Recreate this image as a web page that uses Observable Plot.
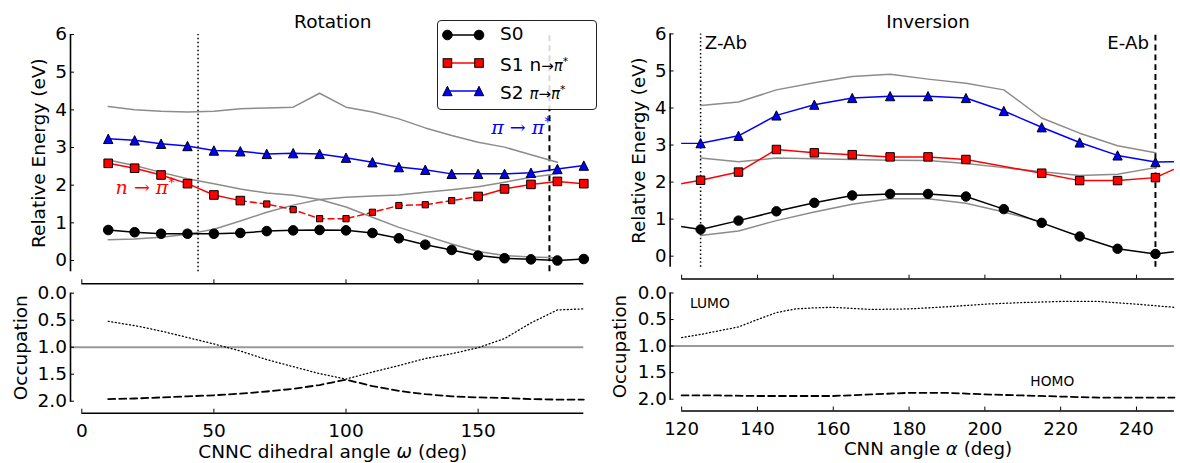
<!DOCTYPE html>
<html><head><meta charset="utf-8">
<script src="https://cdn.jsdelivr.net/npm/d3@7"></script>
<script src="https://cdn.jsdelivr.net/npm/@observablehq/plot@0.6"></script>
<style>
html,body{margin:0;padding:0;background:#fff;overflow:hidden;}
#fig{position:relative;width:1180px;height:463px;overflow:hidden;font-family:"DejaVu Sans",sans-serif;}
#fig .panel{position:absolute;}
#fig svg{overflow:visible;}
.legend{position:absolute;box-sizing:border-box;border:1px solid #222;border-radius:4px;background:rgba(255,255,255,0.85);}
.legend .sw{position:absolute;left:0;}
.legend .lab{position:absolute;left:62px;font-size:18.5px;line-height:22px;white-space:nowrap;color:#000;}
.legend .m{font-size:15px;}
.legend sup{font-size:11px;}
</style></head><body><div id="fig"></div>
<script>
// ---------------- data ----------------
const rotAngles = [10,20,30,40,50,60,70,80,90,100,110,120,130,140,150,160,170,180,190];
const rotS0 = [0.81,0.75,0.71,0.71,0.71,0.73,0.78,0.80,0.81,0.80,0.73,0.59,0.42,0.28,0.13,0.06,0.03,0.00,0.04];
const rotS1 = [2.58,2.45,2.27,2.04,1.74,1.59,1.50,1.35,1.11,1.11,1.28,1.46,1.48,1.59,1.70,1.90,2.02,2.10,2.04];
const rotS1Diabatic = [0,0,0,0,0,0,1,1,1,1,1,1,1,1,0,0,0,0,0];
const rotS2 = [3.23,3.19,3.10,3.04,2.92,2.90,2.83,2.85,2.83,2.73,2.61,2.48,2.41,2.30,2.30,2.30,2.33,2.43,2.52];
const rotGrayAngles = [10,20,30,40,50,60,70,80,90,100,110,120,130,140,150,160,170,180];
const rotGray1 = [4.09,4.00,3.96,3.94,3.96,4.03,4.05,4.07,4.44,4.07,3.94,3.76,3.52,3.32,3.14,3.01,2.81,2.61];
const rotGray2 = [2.67,2.52,2.34,2.17,2.04,1.90,1.79,1.73,1.62,1.42,1.15,0.88,0.66,0.44,0.24,0.13,0.09,0.07];
const rotGray3 = [0.55,0.57,0.62,0.70,0.83,1.05,1.28,1.47,1.62,1.68,1.71,1.74,1.81,1.88,1.96,2.08,2.21,2.30];
const rotRefLines = [44, 177];
const rotLUMO = [0.52,0.60,0.70,0.82,0.94,1.07,1.23,1.36,1.49,1.59,1.46,1.34,1.21,1.12,1.01,0.84,0.55,0.31,0.29];
const rotHOMO = [1.96,1.95,1.93,1.91,1.89,1.86,1.82,1.77,1.70,1.60,1.72,1.81,1.87,1.91,1.93,1.94,1.96,1.97,1.97];

const invAngles = [115,125,135,145,155,165,175,185,195,205,215,225,235,245,255];
const invS0 = [0.88,0.72,0.96,1.21,1.44,1.64,1.68,1.68,1.61,1.27,0.90,0.53,0.20,0.06,0.18];
const invS2 = [3.04,3.05,3.25,3.80,4.09,4.27,4.32,4.32,4.27,3.92,3.48,3.07,2.72,2.54,2.56];
const invS1Angles = [115,125,135,145,155,165,175,185,195,215,225,235,245,255];
const invS1 = [1.87,2.05,2.27,2.88,2.79,2.74,2.68,2.68,2.61,2.24,2.04,2.04,2.12,2.58];
const invGrayAngles = [125,135,145,155,165,175,185,195,205,215,225,235,245];
const invGray1 = [4.07,4.16,4.49,4.68,4.85,4.91,4.78,4.67,4.49,3.73,3.32,2.98,2.79];
const invGray2 = [2.65,2.55,2.65,2.63,2.61,2.59,2.58,2.50,2.39,2.28,2.18,2.21,2.39];
const invGray3Angles = [125,135,145,155,165,175,185,195,205,215];
const invGray3 = [0.56,0.68,0.96,1.19,1.40,1.55,1.55,1.43,1.19,0.93];
const invRefLines = [125, 245];
const invLUMOAngles = [120,125,130,135,140,145,150,155,160,170,180,190,200,210,220,230,240,250];
const invLUMO = [0.84,0.78,0.71,0.64,0.50,0.37,0.30,0.28,0.27,0.31,0.30,0.26,0.21,0.18,0.16,0.16,0.21,0.27];
const invHOMOAngles = [120,130,140,150,160,170,180,190,200,210,220,230,240,250];
const invHOMO = [1.93,1.93,1.94,1.94,1.94,1.91,1.88,1.88,1.91,1.93,1.95,1.97,1.97,1.97];

const occRef = [1.0];
const energyTicks = [0,1,2,3,4,5,6];
const occTicks = [0,0.5,1.0,1.5,2.0];
const rotTicks = [0,50,100,150];
const invTicks = [120,140,160,180,200,220,240];

// ---------------- helpers ----------------
const FONT = "'DejaVu Sans', sans-serif";
const RED = "#ff0000", BLUE = "#0000ff", GRAY = "#8c8c8c";
const FS = 18.5;
const sqSym = {draw(ctx, size){ const r = Math.sqrt(size/Math.PI); ctx.rect(-r,-r,2*r,2*r); }};
const triSym = {draw(ctx, size){ const r = Math.sqrt(size/Math.PI); ctx.moveTo(0,-r); ctx.lineTo(r,r); ctx.lineTo(-r,r); ctx.closePath(); }};
const fig = document.getElementById("fig");

function richText(svg){
  svg.querySelectorAll("text").forEach(t => {
    const s = t.textContent;
    if (!/[_^]/.test(s)) return;
    t.textContent = "";
    for (const p of s.split(/(_[^_]+_|\^[^^]+\^)/).filter(Boolean)) {
      const ts = document.createElementNS("http://www.w3.org/2000/svg","tspan");
      if (p[0] === "_") { ts.setAttribute("font-style","italic"); ts.textContent = p.slice(1,-1); }
      else if (p[0] === "^") { ts.setAttribute("font-size","72%"); ts.setAttribute("dy","-0.55em"); ts.setAttribute("font-style","normal"); ts.setAttribute("font-family","'DejaVu Sans', sans-serif"); ts.textContent = p.slice(1,-1); }
      else ts.textContent = p;
      t.appendChild(ts);
    }
  });
}

function makePanel(cfg){
  const {left, top, width, height, mL, mR, mT, mB, xDom, yDom, yRev=false, offX, offY,
         xTicks, yTicks, yFmt, xTickLabels=false, xTickDy=29, yLabel, yLabelDx, xLabel, xLabelDy=49.5, title, marks} = cfg;
  const pxX = (width - mL - mR) / (xDom[1] - xDom[0]);
  const pxY = (height - mT - mB) / (yDom[1] - yDom[0]);
  const yBot = yRev ? yDom[1] : yDom[0];
  const inward = yRev ? -4/pxY : 4/pxY;
  const ctx = {pxX, pxY, offX};
  const axisMarks = [
    Plot.ruleX([xDom[0]], {y1: yDom[0], y2: yDom[1], dx: -offX, stroke: "#000", strokeWidth: 1.6}),
    Plot.ruleY(yTicks, {y: d => d, x1: xDom[0], x2: xDom[0] + 4/pxX, dx: -offX, stroke: "#000", strokeWidth: 1}),
    Plot.text(yTicks, {x: xDom[0], y: d => d, text: yFmt, textAnchor: "end", lineAnchor: "middle", dx: -offX - 3.5, fontSize: FS, fill: "#000"}),
    Plot.ruleY([yBot], {x1: xDom[0], x2: xDom[1], dy: offY, stroke: "#000", strokeWidth: 1.6}),
    Plot.ruleX(xTicks, {x: d => d, y1: yBot, y2: yBot + inward, dy: offY, stroke: "#000", strokeWidth: 1}),
    Plot.text([yLabel], {frameAnchor: "left", rotate: -90, dx: yLabelDx, text: d => d, textAnchor: "middle", lineAnchor: "middle", fontSize: FS, fill: "#000"})
  ];
  if (xTickLabels) {
    axisMarks.push(Plot.text(xTicks, {x: d => d, frameAnchor: "bottom", dy: xTickDy, text: d => String(d), textAnchor: "middle", lineAnchor: "middle", fontSize: FS, fill: "#000"}));
  }
  if (xLabel) axisMarks.push(Plot.text([xLabel], {frameAnchor: "bottom", dy: xLabelDy, text: d => d, textAnchor: "middle", lineAnchor: "middle", fontSize: FS, fill: "#000"}));
  if (title) axisMarks.push(Plot.text([title], {frameAnchor: "top", dy: -12, text: d => d, textAnchor: "middle", lineAnchor: "middle", fontSize: FS, fill: "#000"}));
  const svg = Plot.plot({
    width, height, marginLeft: mL, marginRight: mR, marginTop: mT, marginBottom: mB,
    x: {domain: xDom, axis: null},
    y: {domain: yDom, axis: null, reverse: yRev},
    style: {background: "transparent", overflow: "visible", fontFamily: FONT},
    marks: [...marks(ctx), ...axisMarks]
  });
  richText(svg);
  const div = document.createElement("div");
  div.className = "panel";
  div.style.left = left + "px"; div.style.top = top + "px";
  div.appendChild(svg);
  fig.appendChild(div);
}

// ---------------- records ----------------
const rotRec = rotAngles.map((a,i) => ({a, s0: rotS0[i], s1: rotS1[i], s2: rotS2[i], dia: rotS1Diabatic[i]}));
const rotGrayRec = [rotGray1, rotGray2, rotGray3].flatMap((arr,k) => rotGrayAngles.map((a,i) => ({a, v: arr[i], k})));
const dFirst = rotS1Diabatic.indexOf(1) - 1, dLast = rotS1Diabatic.lastIndexOf(1) + 1;
const rotLUMORec = rotAngles.map((a,i) => ({a, v: rotLUMO[i]}));
const rotHOMORec = rotAngles.map((a,i) => ({a, v: rotHOMO[i]}));
const invS0Rec = invAngles.map((a,i) => ({a, v: invS0[i]}));
const invS2Rec = invAngles.map((a,i) => ({a, v: invS2[i]}));
const invS1Rec = invS1Angles.map((a,i) => ({a, v: invS1[i]}));
const inView = d => d.a >= 120 && d.a <= 250;
const invGrayRec = [
  ...invGrayAngles.map((a,i) => ({a, v: invGray1[i], k: 1})),
  ...invGrayAngles.map((a,i) => ({a, v: invGray2[i], k: 2})),
  ...invGray3Angles.map((a,i) => ({a, v: invGray3[i], k: 3}))
];
const invLUMORec = invLUMOAngles.map((a,i) => ({a, v: invLUMO[i]}));
const invHOMORec = invHOMOAngles.map((a,i) => ({a, v: invHOMO[i]}));

// ---------------- panels ----------------
const topGeom = {top: 0, height: 300, mT: 34, mB: 28.7, yDom: [-0.3, 6], offY: 12, yTicks: energyTicks, yFmt: d => String(d), yLabel: "Relative Energy (eV)"};
const botGeom = {top: 280, height: 183, mT: 12.7, mB: 61.2, yDom: [0, 2.02], yRev: true, offY: 10.9, yTicks: occTicks, yFmt: d => d.toFixed(1), yLabel: "Occupation", xTickLabels: true};
const leftGeom = {left: 0, width: 600, mL: 81.3, mR: 16.7, xDom: [0, 190], offX: 11.3, xTicks: rotTicks};
const rightGeom = {left: 590, width: 600, mL: 92.7, mR: 6.2, xDom: [120, 250], offX: 11.7, xTicks: invTicks};

// Rotation energies
makePanel({...topGeom, ...leftGeom, yLabelDx: -42.3, title: "Rotation", marks: () => [
  Plot.ruleX([rotRefLines[0]], {y1: -0.3, y2: 6, stroke: "#000", strokeWidth: 1.5, strokeDasharray: "1.5,2.5"}),
  Plot.ruleX([rotRefLines[1]], {y1: -0.3, y2: 6, stroke: "#000", strokeWidth: 2, strokeDasharray: "6,4"}),
  Plot.line(rotGrayRec, {x: "a", y: "v", z: "k", stroke: GRAY, strokeWidth: 1.5}),
  Plot.line(rotRec, {x: "a", y: "s0", stroke: "#000", strokeWidth: 1.5}),
  Plot.line(rotRec, {x: "a", y: d => d.dia ? NaN : d.s1, stroke: RED, strokeWidth: 1.5}),
  Plot.line(rotRec.slice(dFirst, dLast + 1), {x: "a", y: "s1", stroke: RED, strokeWidth: 1.5, strokeDasharray: "6,4"}),
  Plot.line(rotRec, {x: "a", y: "s2", stroke: BLUE, strokeWidth: 1.5}),
  Plot.dot(rotRec, {x: "a", y: "s0", r: 4.8, fill: "#000", stroke: "#000", strokeWidth: 1}),
  Plot.dot(rotRec.filter(d => !d.dia), {x: "a", y: "s1", symbol: sqSym, r: 4.3, fill: RED, stroke: "#000", strokeWidth: 1}),
  Plot.dot(rotRec.filter(d => d.dia), {x: "a", y: "s1", symbol: sqSym, r: 3.1, fill: RED, stroke: "#000", strokeWidth: 1}),
  Plot.dot(rotRec, {x: "a", y: "s2", symbol: triSym, r: 4.7, fill: BLUE, stroke: "#000", strokeWidth: 1}),
  Plot.text(["_n_ → _π_^*^"], {x: 12.8, y: 1.92, text: d => d, textAnchor: "start", lineAnchor: "middle", fill: RED, fontSize: 19, fontFamily: "'DejaVu Serif', serif"}),
  Plot.text(["_π_ → _π_^*^"], {x: 155.0, y: 3.52, text: d => d, textAnchor: "start", lineAnchor: "middle", fill: BLUE, fontSize: 19, fontFamily: "'DejaVu Serif', serif"})
]});

// Inversion energies
makePanel({...topGeom, ...rightGeom, yLabelDx: -42.7, title: "Inversion", marks: () => [
  Plot.ruleX([invRefLines[0]], {y1: -0.3, y2: 6, stroke: "#000", strokeWidth: 1.5, strokeDasharray: "1.5,2.5"}),
  Plot.ruleX([invRefLines[1]], {y1: -0.3, y2: 6, stroke: "#000", strokeWidth: 2, strokeDasharray: "6,4"}),
  Plot.line(invGrayRec, {x: "a", y: "v", z: "k", stroke: GRAY, strokeWidth: 1.5, clip: true}),
  Plot.line(invS0Rec, {x: "a", y: "v", stroke: "#000", strokeWidth: 1.5, clip: true}),
  Plot.line(invS1Rec, {x: "a", y: "v", stroke: RED, strokeWidth: 1.5, clip: true}),
  Plot.line(invS2Rec, {x: "a", y: "v", stroke: BLUE, strokeWidth: 1.5, clip: true}),
  Plot.dot(invS0Rec.filter(inView), {x: "a", y: "v", r: 4.8, fill: "#000", stroke: "#000", strokeWidth: 1}),
  Plot.dot(invS1Rec.filter(inView), {x: "a", y: "v", symbol: sqSym, r: 4.3, fill: RED, stroke: "#000", strokeWidth: 1}),
  Plot.dot(invS2Rec.filter(inView), {x: "a", y: "v", symbol: triSym, r: 4.7, fill: BLUE, stroke: "#000", strokeWidth: 1}),
  Plot.text(["Z-Ab"], {x: 126.1, y: 5.75, text: d => d, textAnchor: "start", lineAnchor: "middle", fontSize: FS, fill: "#000"}),
  Plot.text(["E-Ab"], {x: 243.3, y: 5.75, text: d => d, textAnchor: "end", lineAnchor: "middle", fontSize: FS, fill: "#000"})
]});

// Rotation occupations
makePanel({...botGeom, ...leftGeom, yLabelDx: -60.5, xLabel: "CNNC dihedral angle _ω_ (deg)", marks: ({pxX, offX}) => [
  Plot.ruleY(occRef, {x1: 0 - offX/pxX, x2: 190, stroke: "#999", strokeWidth: 2}),
  Plot.line(rotLUMORec, {x: "a", y: "v", stroke: "#000", strokeWidth: 1.3, strokeDasharray: "1,2.6"}),
  Plot.line(rotHOMORec, {x: "a", y: "v", stroke: "#000", strokeWidth: 1.8, strokeDasharray: "7,4"})
]});

// Inversion occupations
makePanel({...botGeom, ...rightGeom, yLabelDx: -62.2, xLabel: "CNN angle _α_ (deg)", marks: ({pxX, offX}) => [
  Plot.ruleY(occRef, {x1: 120 - offX/pxX, x2: 250, stroke: "#999", strokeWidth: 2}),
  Plot.line(invLUMORec, {x: "a", y: "v", stroke: "#000", strokeWidth: 1.3, strokeDasharray: "1,2.6"}),
  Plot.line(invHOMORec, {x: "a", y: "v", stroke: "#000", strokeWidth: 1.8, strokeDasharray: "7,4"}),
  Plot.text(["LUMO"], {x: 122.2, y: 0.205, text: d => d, textAnchor: "start", lineAnchor: "middle", fontSize: 14, fill: "#000"}),
  Plot.text(["HOMO"], {x: 212.0, y: 1.67, text: d => d, textAnchor: "start", lineAnchor: "middle", fontSize: 14, fill: "#000"})
]});

// ---------------- legend ----------------
const legendEntries = [
  {html: "S0", color: "#000", shape: "circle"},
  {html: "S1 n<span class='m'>→<i>π</i><sup>*</sup></span>", color: RED, shape: "square"},
  {html: "S2 <span class='m'><i>π</i>→<i>π</i><sup>*</sup></span>", color: BLUE, shape: "triangle"}
];
const leg = document.createElement("div");
leg.className = "legend";
Object.assign(leg.style, {left: "437px", top: "20px", width: "160px", height: "89.5px"});
const rowY = [14, 42.3, 70];
function markerSvg(shape, color, cx, cy){
  if (shape === "circle") return `<circle cx="${cx}" cy="${cy}" r="4.8" fill="#000" stroke="#000"/>`;
  if (shape === "square") return `<rect x="${cx-4.3}" y="${cy-4.3}" width="8.6" height="8.6" fill="${color}" stroke="#000"/>`;
  return `<path d="M${cx},${cy-4.7}L${cx+4.7},${cy+4.7}L${cx-4.7},${cy+4.7}Z" fill="${color}" stroke="#000"/>`;
}
legendEntries.forEach((e, i) => {
  const sw = document.createElement("div");
  sw.className = "sw";
  sw.style.top = (rowY[i] - 10) + "px";
  sw.innerHTML = `<svg width="52" height="20"><line x1="9.4" x2="41" y1="10" y2="10" stroke="${e.color}" stroke-width="1.5"/>${markerSvg(e.shape, e.color, 9.4, 10)}${markerSvg(e.shape, e.color, 41, 10)}</svg>`;
  leg.appendChild(sw);
  const lab = document.createElement("div");
  lab.className = "lab";
  lab.style.top = (rowY[i] - 12) + "px";
  lab.innerHTML = e.html;
  leg.appendChild(lab);
});
fig.appendChild(leg);
</script>
</body></html>
